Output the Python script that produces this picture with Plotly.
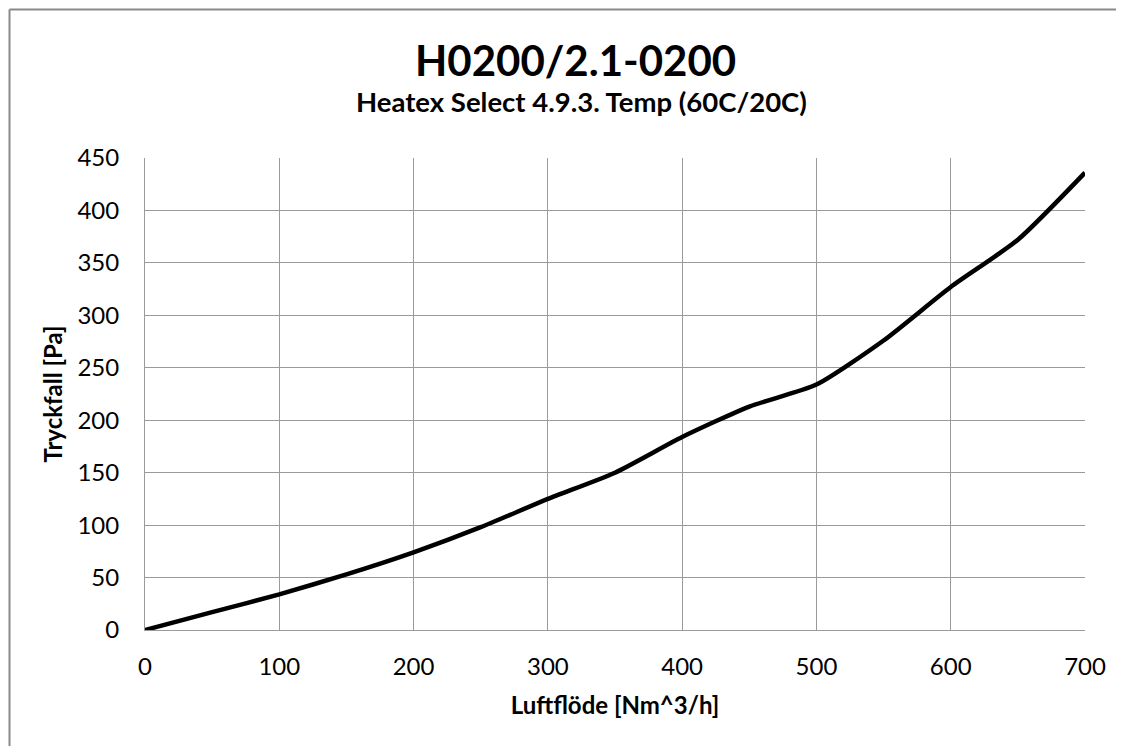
import plotly.graph_objects as go

# Data
airflow = [0, 50, 100, 150, 200, 250, 300, 350, 400, 450, 500, 550, 600, 650, 700]
pressure_drop = [0, 17, 34, 53, 74, 98, 125, 150, 184, 213, 234, 276, 327, 372, 436]
x_ticks = [0, 100, 200, 300, 400, 500, 600, 700]
y_ticks = [0, 50, 100, 150, 200, 250, 300, 350, 400, 450]

title_main = "H0200/2.1-0200"
title_sub = "Heatex Select 4.9.3. Temp (60C/20C)"
x_title = "Luftflöde [Nm^3/h]"
y_title = "Tryckfall [Pa]"

FONT = "Lato, Carlito, Calibri, sans-serif"
GRID = "#9a9a9a"
BORDER = "#8a8a8a"

OFF = 8  # default page body margin
W, H = 1124 - OFF, 746 - OFF
L, T = 145 - OFF, 158 - OFF
pw, ph = 940, 472
R, B = W - L - pw, H - T - ph


def px_x(p):  # page pixel -> paper x
    return (p - OFF - L) / pw


def px_y(p):  # page pixel -> paper y
    return (H - B - (p - OFF)) / ph


fig = go.Figure()
fig.add_trace(go.Scatter(
    x=airflow, y=pressure_drop, mode="lines",
    line=dict(color="black", width=4.5, shape="spline", smoothing=0.6),
    showlegend=False, hoverinfo="skip",
))

bx, by = px_x(OFF + 1.5), px_y(OFF + 1.5)

fig.update_layout(
    width=W, height=H,
    margin=dict(l=L, r=R, t=T, b=B, pad=0),
    paper_bgcolor="white", plot_bgcolor="white",
    font=dict(family=FONT, size=24, color="black"),
    xaxis=dict(
        range=[0, 700], tickvals=x_ticks, showgrid=True, gridcolor=GRID, gridwidth=1,
        showline=True, linecolor=GRID, linewidth=1,
        zeroline=False, ticks="", ticklabelstandoff=15,
        tickfont=dict(family=FONT, size=24),
        title=dict(text="<b>" + x_title + "</b>", font=dict(family=FONT, size=24), standoff=18),
    ),
    yaxis=dict(
        range=[0, 450], tickvals=y_ticks, showgrid=True, gridcolor=GRID, gridwidth=1,
        showline=True, linecolor=GRID, linewidth=1,
        zeroline=False, ticks="", ticklabelstandoff=20,
        tickfont=dict(family=FONT, size=24),
        title=dict(text="<b>" + y_title + "</b>", font=dict(family=FONT, size=24), standoff=8),
    ),
    annotations=[
        dict(text="<b>" + title_main + "</b>", xref="paper", yref="paper",
             x=px_x(575), y=px_y(60), xanchor="center", yanchor="middle",
             showarrow=False, font=dict(family=FONT, size=42, color="black")),
        dict(text="<b>" + title_sub + "</b>", xref="paper", yref="paper",
             x=px_x(581), y=px_y(101), xanchor="center", yanchor="middle",
             showarrow=False, font=dict(family=FONT, size=27.5, color="black")),
    ],
    shapes=[
        dict(type="line", xref="paper", yref="paper",
             x0=bx, x1=px_x(1200), y0=by, y1=by,
             line=dict(color=BORDER, width=2), layer="below"),
        dict(type="line", xref="paper", yref="paper",
             x0=bx, x1=bx, y0=by, y1=px_y(820),
             line=dict(color=BORDER, width=2), layer="below"),
    ],
)

fig.write_html("out.html")
